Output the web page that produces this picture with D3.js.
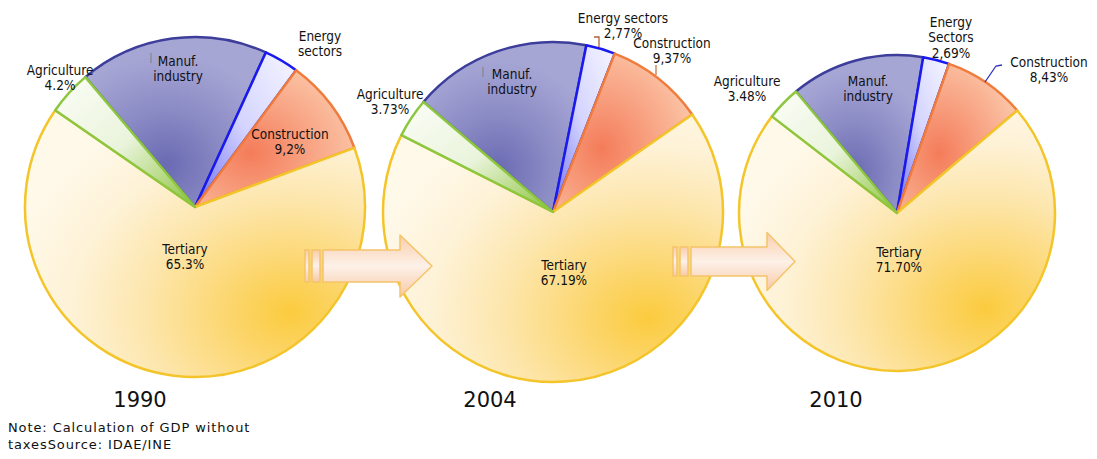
<!DOCTYPE html>
<html>
<head>
<meta charset="utf-8">
<script src="https://cdn.jsdelivr.net/npm/d3@7"></script>
<style>
  body { margin: 0; background: #fff; }
  svg text { font-family: 'DejaVu Sans Condensed', 'DejaVu Sans', sans-serif; fill: #111; }
</style>
</head>
<body>
<svg id="chart" width="1097" height="459"></svg>
<script>
// data
const years = ['1990', '2004', '2010'];
const categories = ['Agriculture', 'Manuf. industry', 'Energy sectors', 'Construction', 'Tertiary'];
const share1990 = [4.2, 18.0, 3.3, 9.2, 65.3];
const share2004 = [3.73, 16.94, 2.77, 9.37, 67.19];
const share2010 = [3.48, 13.7, 2.69, 8.43, 71.7];
const labels1990 = [['Agriculture', '4.2%'], ['Manuf.', 'industry'], ['Energy', 'sectors'], ['Construction', '9,2%'], ['Tertiary', '65.3%']];
const labels2004 = [['Agriculture', '3.73%'], ['Manuf.', 'industry'], ['Energy sectors', '2,77%'], ['Construction', '9,37%'], ['Tertiary', '67.19%']];
const labels2010 = [['Agriculture', '3.48%'], ['Manuf.', 'industry'], ['Energy', 'Sectors', '2,69%'], ['Construction', '8,43%'], ['Tertiary', '71.70%']];
const noteLines = ['Note: Calculation of GDP without', 'taxesSource: IDAE/INE'];

// layout
const pies = [
  { year: years[0], values: share1990, labels: labels1990, cx: 195, cy: 207, r: 170, start: -55.3, yearX: 140,
    labelPos: [[-135, -137], [-17, -146], [125, -171], [95, -73], [-10, 42]],
    leaders: [{ pts: [[-44, -154], [-44, -144]], color: '#888' }] },
  { year: years[1], values: share2004, labels: labels2004, cx: 553, cy: 212, r: 170, start: -63.1, yearX: 490,
    labelPos: [[-163, -118], [-41, -138], [70, -194], [119, -169], [11, 53]],
    leaders: [{ pts: [[-70, -145], [-70, -135]], color: '#888' },
              { pts: [[41, -175], [46, -175], [46, -165]], color: '#b0603a' },
              { pts: [[103, -147], [103, -137]], color: '#c8744a' }] },
  { year: years[2], values: share2010, labels: labels2010, cx: 897, cy: 213, r: 158, start: -52.3, yearX: 836,
    labelPos: [[-150, -132], [-29, -132], [54, -191], [152, -151], [2, 39]],
    leaders: [{ pts: [[105, -148], [99, -147], [88, -131]], color: '#3030c0' }] }
];
const arrows = [
  { x0: 305, body: 323, head: 400, tip: 432, cy: 266, bh: 16, hh: 31 },
  { x0: 673, body: 691, head: 767, tip: 795, cy: 261.5, bh: 14.5, hh: 29 }
];
const strokes = ['#8dc63f', '#3d3d9c', '#1a1af0', '#ef7b3c', '#f4c52a'];
const drawOrder = [1, 2, 3, 4, 0];
const lineH = 15.5;

const svg = d3.select('#chart');
const defs = svg.append('defs');

function radial(id, cx, cy, r, stops) {
  const g = defs.append('radialGradient').attr('id', id)
    .attr('cx', cx).attr('cy', cy).attr('r', r).attr('fx', cx).attr('fy', cy);
  stops.forEach(s => g.append('stop').attr('offset', s[0]).attr('stop-color', s[1]));
}
function linear(id, x1, y1, x2, y2, stops) {
  const g = defs.append('linearGradient').attr('id', id)
    .attr('x1', x1).attr('y1', y1).attr('x2', x2).attr('y2', y2);
  stops.forEach(s => g.append('stop').attr('offset', s[0]).attr('stop-color', s[1]));
}
linear('g0', 0, 0, 1, 1, [[0, '#fbfdf7'], [0.5, '#eaf4dc'], [1, '#8cc43c']]);
radial('g1', 0.45, 0.75, 0.65, [[0, '#6a6ab3'], [0.55, '#8e8ec7'], [1, '#a6a6d5']]);
linear('g2', 1, 0, 0, 1, [[0, '#f6f6ff'], [0.5, '#d4d4ff'], [1, '#6f6ff2']]);
radial('g3', 0.35, 0.6, 0.7, [[0, '#f47c5a'], [0.55, '#f8a585'], [1, '#fbc6a8']]);
radial('g4', 0.78, 0.76, 0.85, [[0, '#fbcb3e'], [0.25, '#fcd876'], [0.5, '#fde6ac'], [0.75, '#fef2d6'], [1, '#fff9ea']]);
linear('ga', 0, 0, 0, 1, [[0, '#f9cdab'], [0.5, '#fdf1e8'], [1, '#f8c9a6']]);

pies.forEach(p => {
  const pie = d3.pie().sort(null)
    .startAngle(p.start * Math.PI / 180)
    .endAngle(p.start * Math.PI / 180 + 2 * Math.PI);
  const arc = d3.arc().innerRadius(0).outerRadius(p.r);
  const arcs = pie(p.values);
  const g = svg.append('g').attr('transform', `translate(${p.cx},${p.cy})`);

  g.selectAll('path.slice')
    .data(drawOrder.map(i => arcs[i]))
    .enter()
    .append('path')
    .attr('class', 'slice')
    .attr('d', arc)
    .attr('fill', d => `url(#g${d.index})`)
    .attr('stroke', d => strokes[d.index])
    .attr('stroke-width', 2.5)
    .attr('stroke-linejoin', 'round');

  p.leaders.forEach(l => {
    g.append('path')
      .attr('d', d3.line()(l.pts))
      .attr('fill', 'none')
      .attr('stroke', l.color)
      .attr('stroke-width', 1.3);
  });

  p.labels.forEach((lines, i) => {
    const pos = p.labelPos[i];
    const t = g.append('text')
      .attr('text-anchor', 'middle')
      .style('font-size', '13.5px');
    lines.forEach((s, k) => {
      t.append('tspan')
        .attr('x', pos[0])
        .attr('y', pos[1] + k * lineH)
        .attr('dy', '0.35em')
        .text(s);
    });
  });

  svg.append('text')
    .attr('x', p.yearX)
    .attr('y', 407)
    .attr('text-anchor', 'middle')
    .style('font-family', "'DejaVu Sans', sans-serif")
    .style('font-size', '21px')
    .text(p.year);
});

// arrows between the pies
arrows.forEach(a => {
  const g = svg.append('g')
    .attr('fill', 'url(#ga)')
    .attr('stroke', '#f5c46a')
    .attr('stroke-width', 1.5);
  g.append('rect').attr('x', a.x0).attr('y', a.cy - a.bh).attr('width', 4).attr('height', a.bh * 2);
  g.append('rect').attr('x', a.x0 + 7).attr('y', a.cy - a.bh).attr('width', 8).attr('height', a.bh * 2);
  const pts = [
    [a.body, a.cy - a.bh], [a.head, a.cy - a.bh], [a.head, a.cy - a.hh], [a.tip, a.cy],
    [a.head, a.cy + a.hh], [a.head, a.cy + a.bh], [a.body, a.cy + a.bh]
  ];
  g.append('path').attr('d', d3.line()(pts) + 'Z').attr('stroke-linejoin', 'round');
});

// note
svg.selectAll('text.note')
  .data(noteLines)
  .enter()
  .append('text')
  .attr('class', 'note')
  .attr('x', 8)
  .attr('y', (d, i) => 432 + i * 16.5)
  .style('font-family', "'DejaVu Sans', sans-serif")
  .style('font-size', '13px')
  .style('letter-spacing', '0.9px')
  .text(d => d);
</script>
</body>
</html>
